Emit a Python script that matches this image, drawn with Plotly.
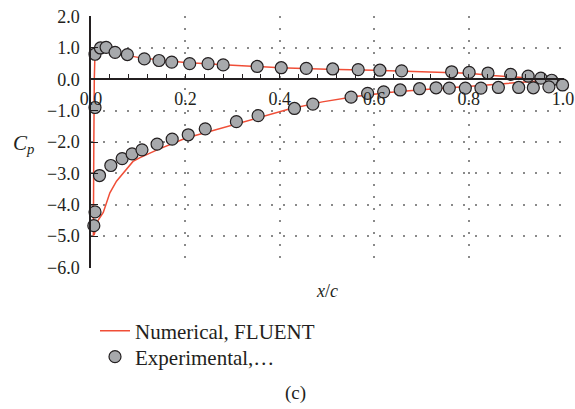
import plotly.graph_objects as go

# Numerical (FLUENT) Cp distribution, traced around the airfoil
num_x = [1.0, 0.97, 0.94, 0.90, 0.85, 0.80, 0.75, 0.70, 0.60, 0.50, 0.40, 0.30, 0.25, 0.20,
         0.15, 0.10, 0.07, 0.05, 0.03, 0.02, 0.012, 0.009, 0.008, 0.007, 0.006, 0.005, 0.005,
         0.007, 0.010, 0.015, 0.026, 0.040, 0.054, 0.075, 0.089, 0.104, 0.14, 0.20, 0.28,
         0.35, 0.42, 0.49, 0.56, 0.63, 0.70, 0.79, 0.85, 0.90, 0.95, 1.0]
num_cp = [-0.05, -0.01, 0.03, 0.07, 0.12, 0.19, 0.22, 0.25, 0.29, 0.32, 0.37, 0.45, 0.49, 0.54,
          0.61, 0.70, 0.78, 0.86, 0.94, 0.98, 0.97, 0.85, 0.60, 0.0, -2.0, -4.0, -4.98,
          -4.95, -4.75, -4.5, -4.25, -3.62, -3.25, -2.88, -2.62, -2.50, -2.25, -1.88, -1.55,
          -1.25, -0.95, -0.72, -0.55, -0.42, -0.33, -0.24, -0.17, -0.10, -0.05, -0.05]

# Experimental points
exp_x = [0.0085, 0.020, 0.032, 0.051, 0.077, 0.113, 0.144, 0.171, 0.209, 0.248, 0.280, 0.352,
         0.403, 0.456, 0.512, 0.566, 0.612, 0.658, 0.764, 0.801, 0.841, 0.889, 0.926, 0.953,
         0.976, 0.999,
         0.0085, 0.018, 0.042, 0.066, 0.087, 0.108, 0.140, 0.172, 0.206, 0.242, 0.308, 0.354,
         0.431, 0.470, 0.551, 0.586, 0.620, 0.655, 0.696, 0.731, 0.759, 0.793, 0.826, 0.863,
         0.906, 0.937, 0.970, 0.0085, 0.006]
exp_cp = [0.80, 1.00, 1.02, 0.86, 0.79, 0.65, 0.60, 0.55, 0.50, 0.50, 0.46, 0.41,
          0.37, 0.35, 0.33, 0.31, 0.29, 0.27, 0.24, 0.22, 0.20, 0.16, 0.10, 0.04,
          -0.03, -0.18,
          -0.90, -3.07, -2.75, -2.53, -2.38, -2.25, -2.07, -1.91, -1.77, -1.58, -1.35, -1.16,
          -0.93, -0.79, -0.57, -0.45, -0.40, -0.34, -0.30, -0.27, -0.28, -0.28, -0.28, -0.26,
          -0.26, -0.27, -0.24, -4.23, -4.67]

x_ticks = [0.0, 0.2, 0.4, 0.6, 0.8, 1.0]
y_ticks = [2.0, 1.0, 0.0, -1.0, -2.0, -3.0, -4.0, -5.0, -6.0]

FONT = "Liberation Serif"
TXT = "#231f20"
RED = "#f04e37"

L, R, T, B = 91, 11, 16, 141
PW, PH = 575 - L - R, 409 - T - B


def px(xp):
    return (xp - L) / PW


def py(yp):
    return (409 - B - yp) / PH


fig = go.Figure()
fig.add_trace(go.Scatter(x=num_x, y=num_cp, mode="lines", name="Numerical, FLUENT",
                         line=dict(color=RED, width=1.5), cliponaxis=False,
                         legend="legend"))
fig.add_trace(go.Scatter(x=exp_x, y=exp_cp, mode="markers", name="Experimental,…",
                         marker=dict(size=12, color="#a7a9ac",
                                     line=dict(color=TXT, width=1.2)),
                         cliponaxis=False, legend="legend2"))

leg_common = dict(xanchor="left", yanchor="middle",
                  font=dict(family=FONT, size=21, color=TXT),
                  bgcolor="rgba(0,0,0,0)", itemwidth=30)

ymin, ymax = -6.02, 2.02
fig.update_layout(
    width=575, height=409,
    margin=dict(l=L, r=R, t=T, b=B, autoexpand=False),
    paper_bgcolor="white", plot_bgcolor="white",
    font=dict(family=FONT, color=TXT, size=18),
    showlegend=True,
    legend=dict(x=px(95), y=py(331), **leg_common),
    legend2=dict(x=px(95), y=py(357), **leg_common),
    xaxis=dict(range=[0, 1.002], anchor="free", position=(0 - ymin) / (ymax - ymin),
               tickvals=x_ticks, ticktext=[f"{v:.1f}" for v in x_ticks],
               ticks="inside", ticklen=5, tickwidth=1.2, tickcolor=TXT,
               minor=dict(dtick=0.04, tick0=0, ticks="inside", ticklen=5, tickwidth=1.2,
                          tickcolor=TXT, showgrid=False),
               showline=True, linecolor=TXT, linewidth=1.5,
               showgrid=True, gridcolor="#8a8a8a", gridwidth=1.5, griddash="1.5px,10.5px",
               zeroline=False, tickfont=dict(family=FONT, size=18, color=TXT),
               ticklabelstandoff=3, automargin=False),
    yaxis=dict(range=[ymin, ymax], tickvals=y_ticks,
               ticktext=[f"{v:.1f}".replace("-", "\u2212") for v in y_ticks],
               ticks="inside", ticklen=7, tickwidth=1.2, tickcolor=TXT,
               showline=True, linecolor=TXT, linewidth=1.5,
               showgrid=True, gridcolor="#8a8a8a", gridwidth=1.5, griddash="1.5px,10.5px",
               zeroline=False, tickfont=dict(family=FONT, size=18, color=TXT),
               ticklabelstandoff=6, automargin=False),
    annotations=[
        dict(text="<i>C<sub>p</sub></i>", xref="paper", yref="paper",
             x=px(23), y=py(144), xanchor="center", yanchor="middle", showarrow=False,
             font=dict(family=FONT, size=21, color=TXT)),
        dict(text="<i>x</i>/<i>c</i>", xref="paper", yref="paper",
             x=px(327), y=py(291), xanchor="center", yanchor="middle", showarrow=False,
             font=dict(family=FONT, size=18, color=TXT)),
        dict(text="(c)", xref="paper", yref="paper",
             x=px(295), y=py(393), xanchor="center", yanchor="middle", showarrow=False,
             font=dict(family=FONT, size=19, color=TXT)),
    ],
)

fig.write_html("out.html")
